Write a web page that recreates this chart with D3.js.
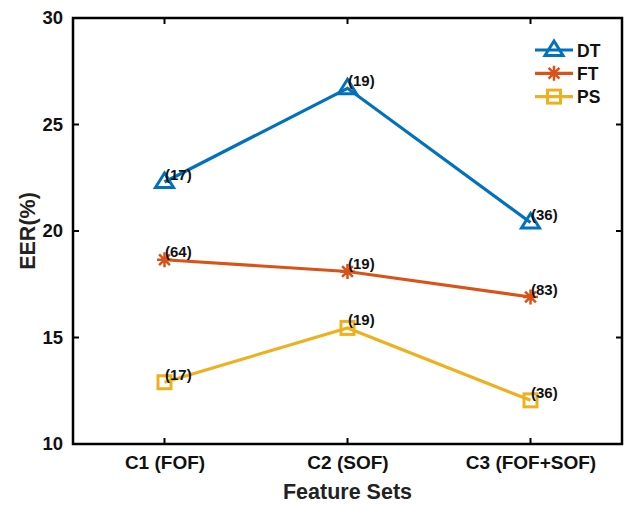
<!DOCTYPE html>
<html>
<head>
<meta charset="utf-8">
<script src="https://cdn.jsdelivr.net/npm/d3@7"></script>
<style>
  html, body { margin: 0; padding: 0; background: #fff; }
  svg { display: block; }
  text { font-family: "Liberation Sans", Arial, sans-serif; font-weight: bold; }
</style>
</head>
<body>
<svg id="chart" width="625" height="505"></svg>
<script>
const categories = ["C1 (FOF)", "C2 (SOF)", "C3 (FOF+SOF)"];
const seriesNames = ["DT", "FT", "PS"];
const dtValues = [22.3, 26.7, 20.4];
const ftValues = [18.65, 18.1, 16.9];
const psValues = [12.9, 15.45, 12.05];
const dtLabels = ["(17)", "(19)", "(36)"];
const ftLabels = ["(64)", "(19)", "(83)"];
const psLabels = ["(17)", "(19)", "(36)"];
const yTicks = [10, 15, 20, 25, 30];
const colors = ["#0072BD", "#D95319", "#EDB120"];
const markers = ["triangle", "star", "square"];

const series = [
  { name: seriesNames[0], values: dtValues, labels: dtLabels, color: colors[0], marker: markers[0] },
  { name: seriesNames[1], values: ftValues, labels: ftLabels, color: colors[1], marker: markers[1] },
  { name: seriesNames[2], values: psValues, labels: psLabels, color: colors[2], marker: markers[2] }
];

const svg = d3.select("#chart");
const L = 73, R = 622, T = 18, B = 444;

const x = d3.scaleLinear().domain([0.5, 3.5]).range([L, R]);
const y = d3.scaleLinear().domain([10, 30]).range([B, T]);

svg.append("rect").attr("x", L).attr("y", T).attr("width", R - L).attr("height", B - T)
  .attr("fill", "none").attr("stroke", "#000").attr("stroke-width", 2.5);

const xAxis = d3.axisBottom(x).tickValues([1, 2, 3]).tickFormat((d) => categories[d - 1]).tickSize(0).tickPadding(12);
const gx = svg.append("g").attr("transform", `translate(0,${B})`).call(xAxis);
gx.select(".domain").remove();
gx.selectAll("text").attr("font-size", "19px").attr("fill", "#111")
  .attr("font-family", '"Liberation Sans", Arial, sans-serif').attr("font-weight", "bold");
[1, 2, 3].forEach(v => {
  svg.append("line").attr("x1", x(v)).attr("x2", x(v)).attr("y1", B).attr("y2", B - 6).attr("stroke", "#000").attr("stroke-width", 2);
  svg.append("line").attr("x1", x(v)).attr("x2", x(v)).attr("y1", T).attr("y2", T + 6).attr("stroke", "#000").attr("stroke-width", 2);
});

const yAxis = d3.axisLeft(y).tickValues(yTicks).tickSize(0).tickPadding(10);
const gy = svg.append("g").attr("transform", `translate(${L},0)`).call(yAxis);
gy.select(".domain").remove();
gy.selectAll("text").attr("font-size", "18.5px").attr("fill", "#111")
  .attr("font-family", '"Liberation Sans", Arial, sans-serif').attr("font-weight", "bold");
yTicks.forEach(v => {
  svg.append("line").attr("x1", L).attr("x2", L + 6).attr("y1", y(v)).attr("y2", y(v)).attr("stroke", "#000").attr("stroke-width", 2);
  svg.append("line").attr("x1", R).attr("x2", R - 6).attr("y1", y(v)).attr("y2", y(v)).attr("stroke", "#000").attr("stroke-width", 2);
});

svg.append("text").attr("x", (L + R) / 2).attr("y", 499).attr("text-anchor", "middle")
  .attr("font-size", "21.5px").attr("fill", "#222").text("Feature Sets");
svg.append("text").attr("transform", `translate(35,${(T + B) / 2}) rotate(-90)`).attr("text-anchor", "middle")
  .attr("font-size", "21.5px").attr("fill", "#222").text("EER(%)");

function drawMarker(g, type, cx, cy, color) {
  if (type === "triangle") {
    const s = 9;
    g.append("path").attr("d", `M${cx},${cy - s} L${cx + s},${cy + s * 0.6} L${cx - s},${cy + s * 0.6} Z`)
      .attr("fill", "none").attr("stroke", color).attr("stroke-width", 3).attr("stroke-linejoin", "miter");
  } else if (type === "star") {
    const s = 7.5;
    const d = s * 0.72;
    g.append("path").attr("d", `M${cx - s},${cy} L${cx + s},${cy} M${cx},${cy - s} L${cx},${cy + s} M${cx - d},${cy - d} L${cx + d},${cy + d} M${cx - d},${cy + d} L${cx + d},${cy - d}`)
      .attr("fill", "none").attr("stroke", color).attr("stroke-width", 2.5);
  } else {
    const s = 6.5;
    g.append("rect").attr("x", cx - s).attr("y", cy - s).attr("width", 2 * s).attr("height", 2 * s)
      .attr("fill", "none").attr("stroke", color).attr("stroke-width", 3);
  }
}

const line = d3.line().x((d, i) => x(i + 1)).y(d => y(d));

series.forEach(s => {
  const g = svg.append("g");
  g.append("path").datum(s.values).attr("d", line).attr("fill", "none")
    .attr("stroke", s.color).attr("stroke-width", 3.2);
  s.values.forEach((v, i) => drawMarker(g, s.marker, x(i + 1), y(v), s.color));
});

series.forEach(s => {
  s.values.forEach((v, i) => {
    svg.append("text").attr("x", x(i + 1) + 0.5).attr("y", y(v) - 2.5)
      .attr("font-size", "15px").attr("fill", "#111").text(s.labels[i]);
  });
});

series.forEach((s, i) => {
  const ly = 50 + i * 23.3;
  const g = svg.append("g");
  g.append("line").attr("x1", 535).attr("x2", 573).attr("y1", ly).attr("y2", ly)
    .attr("stroke", s.color).attr("stroke-width", 3.2);
  drawMarker(g, s.marker, 554, ly, s.color);
  g.append("text").attr("x", 577).attr("y", ly + 6.5).attr("font-size", "17.5px").attr("fill", "#111").text(s.name);
});
</script>
</body>
</html>
